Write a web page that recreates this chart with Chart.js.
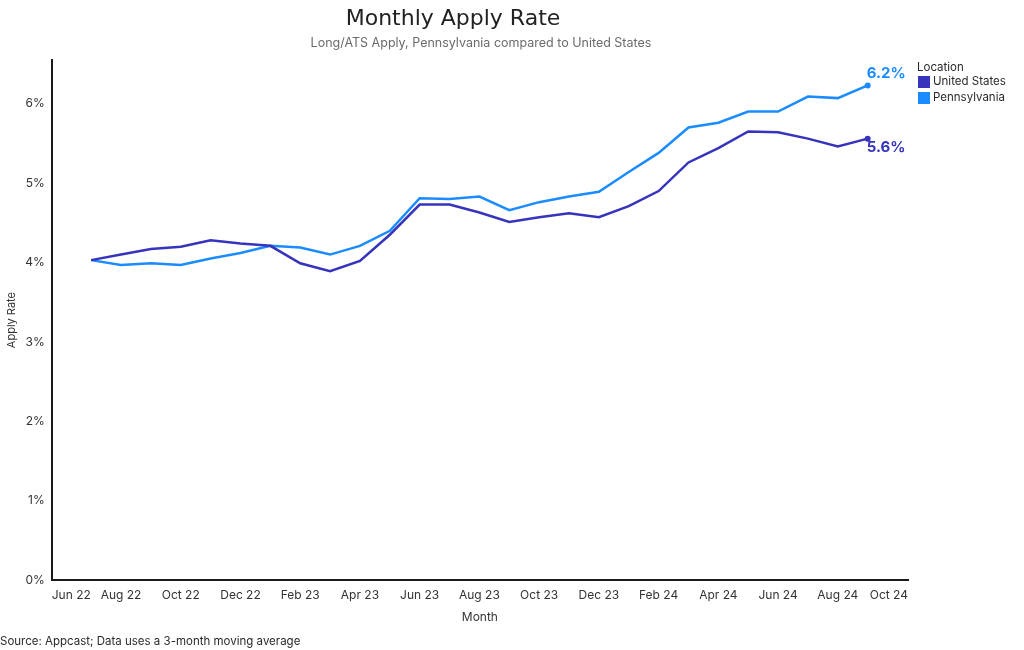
<!DOCTYPE html>
<html>
<head>
<meta charset="utf-8">
<script src="https://cdn.jsdelivr.net/npm/chart.js@4/dist/chart.umd.min.js"></script>
<style>
  html, body { margin: 0; padding: 0; background: #fff; }
  #wrap { width: 1024px; height: 650px; }
</style>
</head>
<body>
<div id="wrap"><canvas id="c" width="1024" height="650"></canvas></div>
<script>
// ---- Data ----
const axisMonths = ['Jun 22','Jul 22','Aug 22','Sep 22','Oct 22','Nov 22','Dec 22',
  'Jan 23','Feb 23','Mar 23','Apr 23','May 23','Jun 23','Jul 23','Aug 23','Sep 23','Oct 23','Nov 23','Dec 23',
  'Jan 24','Feb 24','Mar 24','Apr 24','May 24','Jun 24','Jul 24','Aug 24','Sep 24','Oct 24'];
const dataMonths = ['Jul 22','Aug 22','Sep 22','Oct 22','Nov 22','Dec 22',
  'Jan 23','Feb 23','Mar 23','Apr 23','May 23','Jun 23','Jul 23','Aug 23','Sep 23','Oct 23','Nov 23','Dec 23',
  'Jan 24','Feb 24','Mar 24','Apr 24','May 24','Jun 24','Jul 24','Aug 24','Sep 24'];
const tickLabels = ['Jun 22','Aug 22','Oct 22','Dec 22','Feb 23','Apr 23','Jun 23','Aug 23',
  'Oct 23','Dec 23','Feb 24','Apr 24','Jun 24','Aug 24','Oct 24'];
const unitedStates = [4.03, 4.10, 4.17, 4.20, 4.28, 4.24, 4.21, 3.99, 3.89, 4.02, 4.35, 4.73, 4.73, 4.63,
  4.51, 4.57, 4.62, 4.57, 4.71, 4.90, 5.26, 5.44, 5.65, 5.64, 5.56, 5.46, 5.56];
const pennsylvania = [4.03, 3.97, 3.99, 3.97, 4.05, 4.12, 4.21, 4.19, 4.10, 4.21, 4.40, 4.81, 4.80, 4.83,
  4.66, 4.76, 4.83, 4.89, 5.14, 5.38, 5.70, 5.76, 5.90, 5.90, 6.09, 6.07, 6.23];
const seriesNames = ['United States', 'Pennsylvania'];
const yTicks = [0, 1, 2, 3, 4, 5, 6];

const titleText = 'Monthly Apply Rate';
const subtitleText = 'Long/ATS Apply, Pennsylvania compared to United States';
const sourceText = 'Source: Appcast; Data uses a 3-month moving average';
const legendTitle = 'Location';

const colors = ['#3633BD', '#1B8CFF'];
const FONT = 'Inter, "Noto Sans", sans-serif';

function toPoints(vals) {
  return vals.map((v, i) => ({ x: axisMonths.indexOf(dataMonths[i]), y: v }));
}
const X_MIN = -0.32, X_MAX = 28.35;

const lastRadius = (ctx) => ctx.dataIndex === ctx.dataset.data.length - 1 ? 3 : 0;

const decor = {
  id: 'decor',
  afterDraw(chart) {
    const ctx = chart.ctx;
    ctx.save();
    // Title & subtitle
    ctx.textAlign = 'center';
    ctx.textBaseline = 'middle';
    ctx.fillStyle = '#222';
    ctx.font = '400 22px "DejaVu Sans", ' + FONT;
    ctx.fillText(titleText, 453, 19);
    ctx.fillStyle = '#6b6b6b';
    ctx.font = '400 12.5px ' + FONT;
    ctx.fillText(subtitleText, 481, 43);
    // Source
    ctx.textAlign = 'left';
    ctx.fillStyle = '#2a2a2a';
    ctx.font = '400 11.5px ' + FONT;
    ctx.fillText(sourceText, 0, 642);
    // Legend
    ctx.fillStyle = '#2a2a2a';
    ctx.font = '400 11.5px ' + FONT;
    ctx.fillText(legendTitle, 917, 68);
    chart.data.datasets.forEach((ds, i) => {
      const y = 82 + i * 16;
      ctx.fillStyle = ds.borderColor;
      ctx.fillRect(918, y - 6, 12, 12);
      ctx.fillStyle = '#2a2a2a';
      ctx.fillText(ds.label, 933, y);
    });
    // End labels
    ctx.font = '700 15px ' + FONT;
    chart.data.datasets.forEach((ds, i) => {
      const meta = chart.getDatasetMeta(i);
      const pt = meta.data[meta.data.length - 1];
      const v = ds.data[ds.data.length - 1].y;
      ctx.fillStyle = ds.borderColor;
      ctx.textAlign = 'left';
      ctx.textBaseline = 'middle';
      const dy = ds.label === 'Pennsylvania' ? -12 : 9;
      ctx.fillText(v.toFixed(1) + '%', pt.x - 1, pt.y + dy);
    });
    ctx.restore();
  }
};

new Chart(document.getElementById('c'), {
  type: 'line',
  data: {
    datasets: [
      { label: seriesNames[0], data: toPoints(unitedStates), borderColor: colors[0], backgroundColor: colors[0],
        borderWidth: 2.5, pointRadius: lastRadius, pointBackgroundColor: colors[0], pointBorderWidth: 0, tension: 0 },
      { label: seriesNames[1], data: toPoints(pennsylvania), borderColor: colors[1], backgroundColor: colors[1],
        borderWidth: 2.5, pointRadius: lastRadius, pointBackgroundColor: colors[1], pointBorderWidth: 0, tension: 0 }
    ]
  },
  options: {
    responsive: false,
    animation: false,
    devicePixelRatio: 1,
    layout: { padding: { top: 60, right: 116, bottom: 25, left: 5 } },
    plugins: {
      legend: { display: false },
      title: { display: false },
      tooltip: { enabled: false }
    },
    scales: {
      x: {
        type: 'linear',
        min: X_MIN, max: X_MAX,
        grid: { display: false, drawTicks: false },
        border: { display: true, color: '#1a1a1a', width: 2 },
        afterBuildTicks(scale) {
          scale.ticks = tickLabels.map((l, i) => ({
            value: i === 0 ? X_MIN : (i === tickLabels.length - 1 ? X_MAX : axisMonths.indexOf(l))
          }));
        },
        ticks: {
          align: 'inner',
          maxRotation: 0,
          autoSkip: false,
          padding: 8,
          color: '#333',
          font: { family: FONT, size: 12 },
          callback: (v) => axisMonths[Math.round(v)]
        },
        title: { display: true, text: 'Month', color: '#333', font: { family: FONT, size: 12 }, padding: { top: 0, bottom: 0 } }
      },
      y: {
        min: 0, max: 6.55,
        grid: { display: false, drawTicks: false },
        border: { display: true, color: '#1a1a1a', width: 2 },
        afterBuildTicks(scale) {
          scale.ticks = yTicks.map(v => ({ value: v }));
        },
        ticks: {
          padding: 7,
          color: '#333',
          font: { family: FONT, size: 12 },
          callback: (v) => v + '%'
        },
        title: { display: true, text: 'Apply Rate', color: '#333', font: { family: FONT, size: 11 }, padding: { top: 0, bottom: 0 } }
      }
    }
  },
  plugins: [decor]
});
</script>
</body>
</html>
